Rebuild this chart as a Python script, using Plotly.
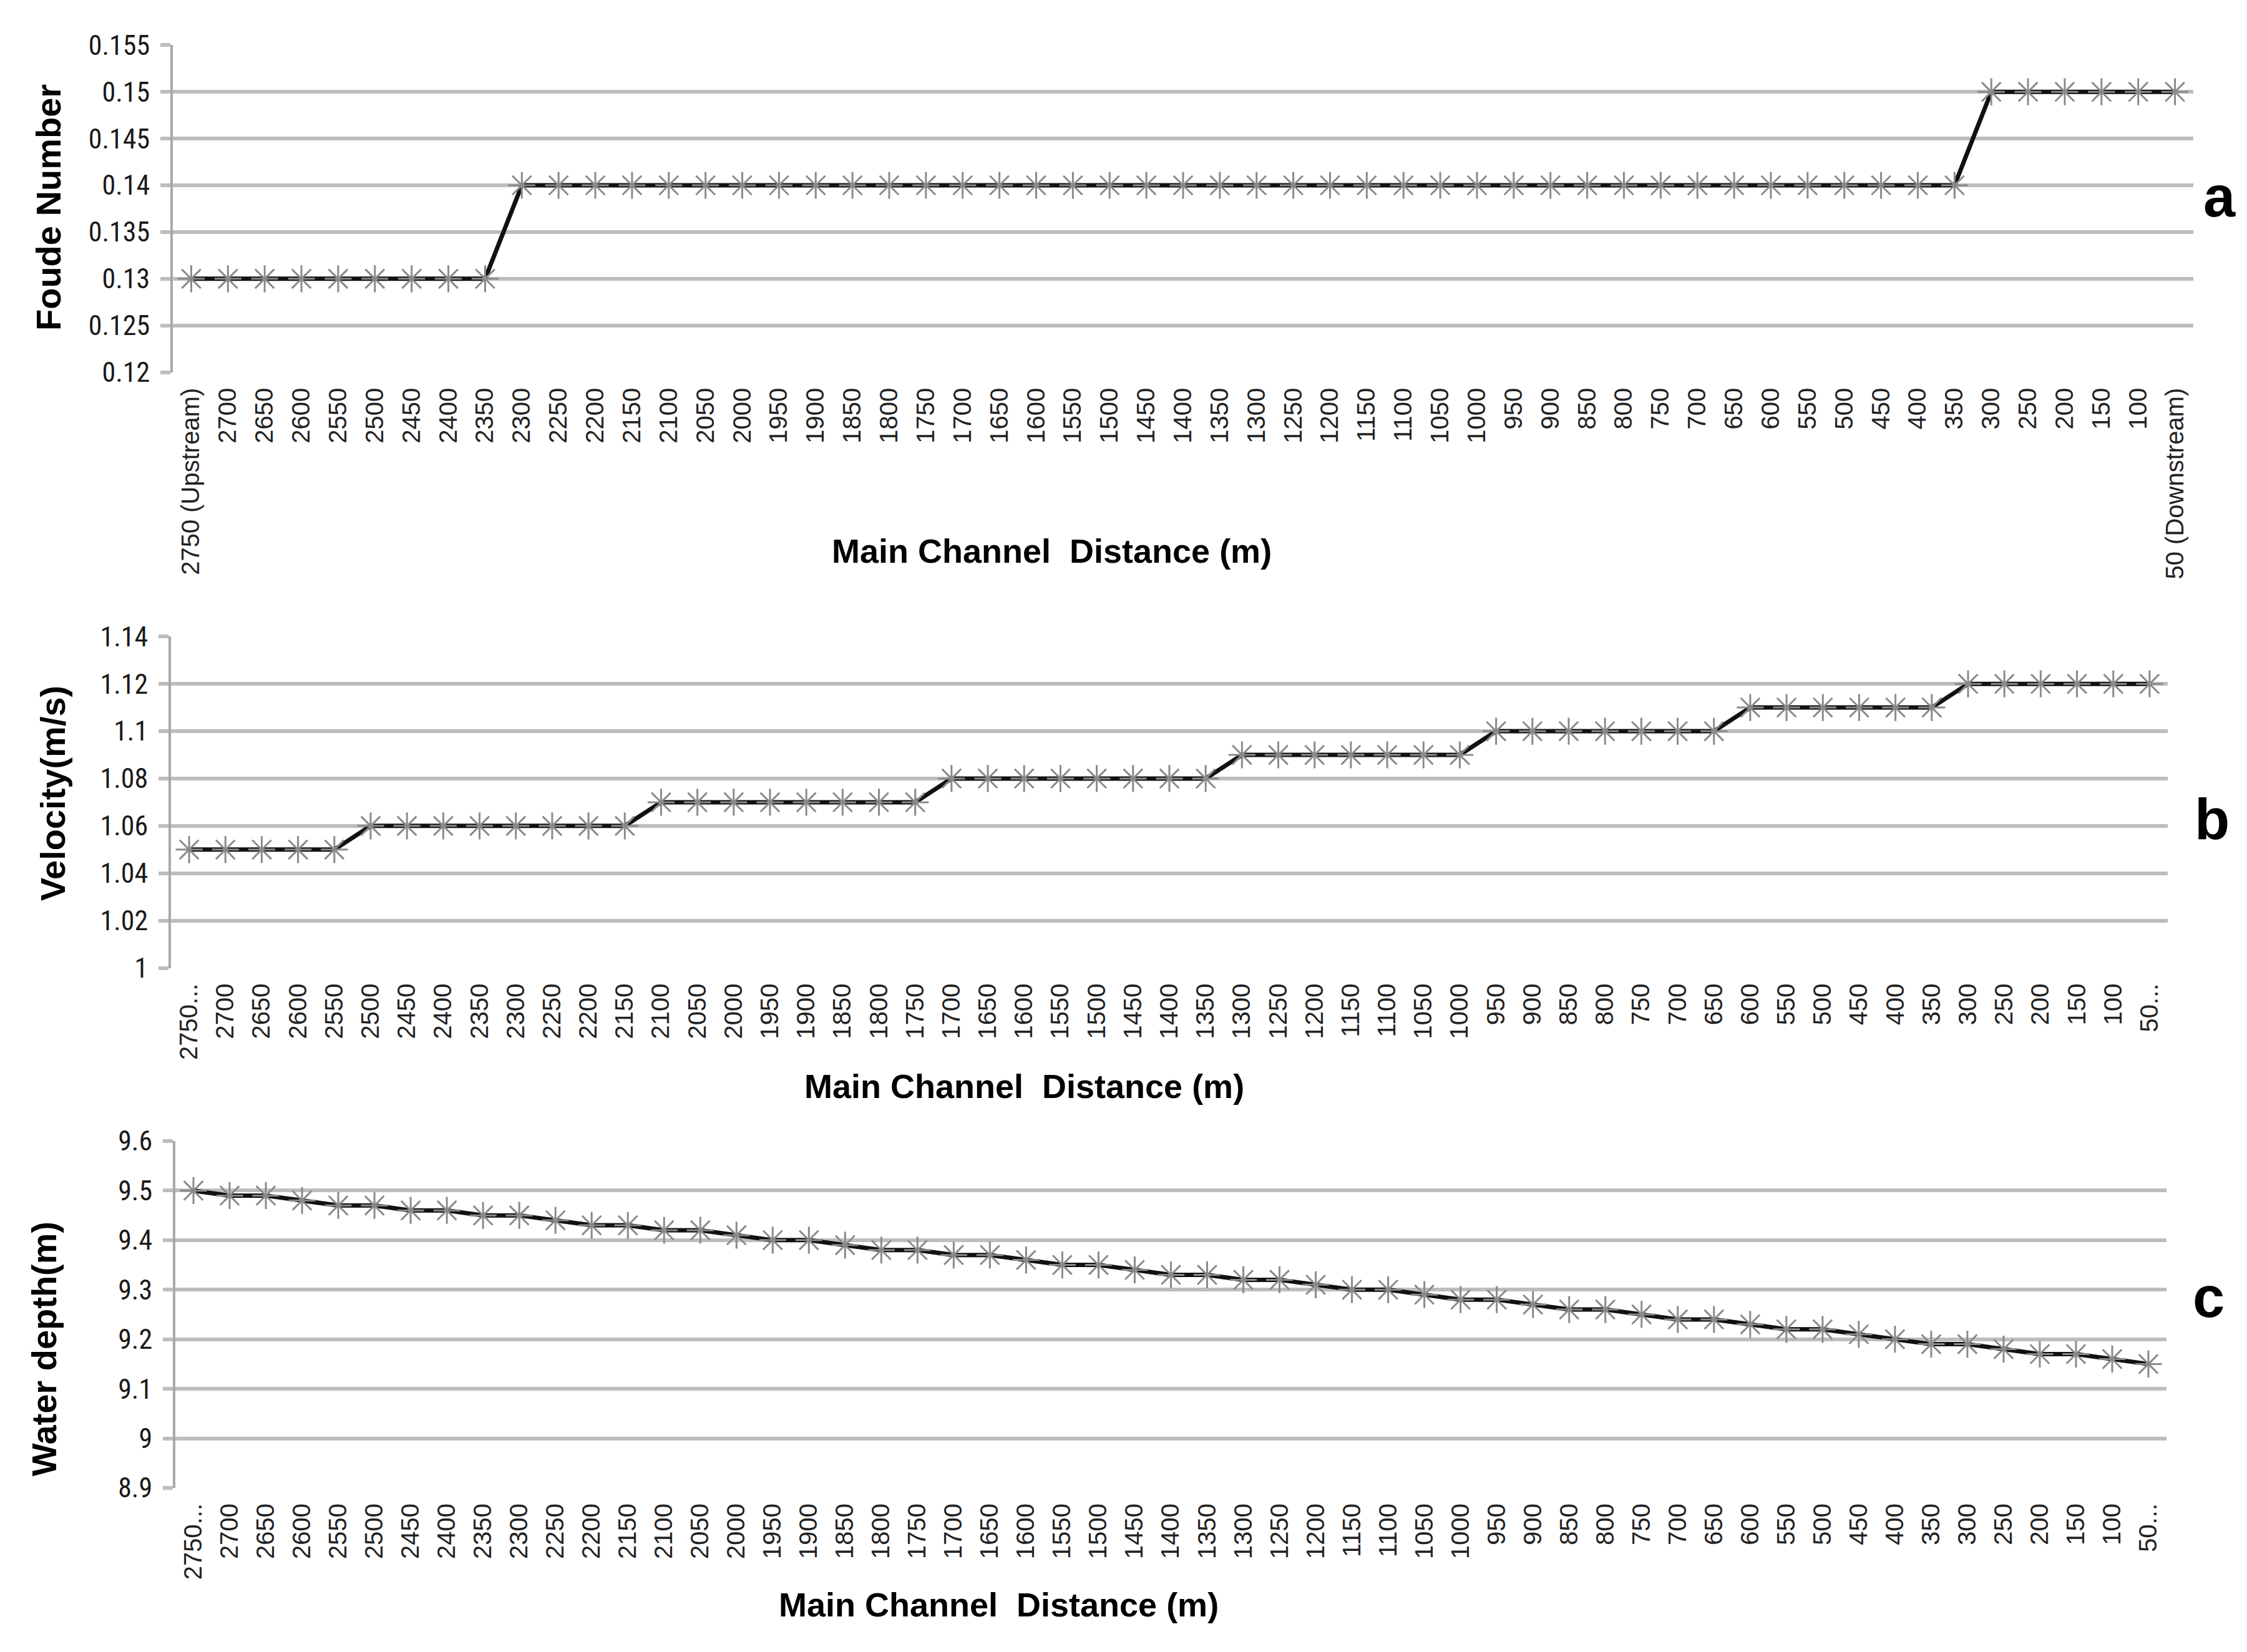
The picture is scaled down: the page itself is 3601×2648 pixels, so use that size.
import plotly.graph_objects as go

# main channel stations, upstream -> downstream (m)
distance = [2750, 2700, 2650, 2600, 2550, 2500, 2450, 2400, 2350, 2300, 2250,
            2200, 2150, 2100, 2050, 2000, 1950, 1900, 1850, 1800, 1750, 1700,
            1650, 1600, 1550, 1500, 1450, 1400, 1350, 1300, 1250, 1200, 1150,
            1100, 1050, 1000, 950, 900, 850, 800, 750, 700, 650, 600, 550,
            500, 450, 400, 350, 300, 250, 200, 150, 100, 50]

froude = [0.13] * 9 + [0.14] * 40 + [0.15] * 6

velocity = ([1.05] * 5 + [1.06] * 8 + [1.07] * 8 + [1.08] * 8 +
            [1.09] * 7 + [1.10] * 7 + [1.11] * 6 + [1.12] * 6)

depth = [9.50, 9.49, 9.49, 9.48, 9.47, 9.47, 9.46, 9.46, 9.45, 9.45, 9.44,
         9.43, 9.43, 9.42, 9.42, 9.41, 9.40, 9.40, 9.39, 9.38, 9.38, 9.37,
         9.37, 9.36, 9.35, 9.35, 9.34, 9.33, 9.33, 9.32, 9.32, 9.31, 9.30,
         9.30, 9.29, 9.28, 9.28, 9.27, 9.26, 9.26, 9.25, 9.24, 9.24, 9.23,
         9.22, 9.22, 9.21, 9.20, 9.19, 9.19, 9.18, 9.17, 9.17, 9.16, 9.15]

froude_ticks = [0.12, 0.125, 0.13, 0.135, 0.14, 0.145, 0.15, 0.155]
froude_ticktext = ["0.12", "0.125", "0.13", "0.135", "0.14", "0.145", "0.15", "0.155"]
velocity_ticks = [1.0, 1.02, 1.04, 1.06, 1.08, 1.10, 1.12, 1.14]
velocity_ticktext = ["1", "1.02", "1.04", "1.06", "1.08", "1.1", "1.12", "1.14"]
depth_ticks = [8.9, 9.0, 9.1, 9.2, 9.3, 9.4, 9.5, 9.6]
depth_ticktext = ["8.9", "9", "9.1", "9.2", "9.3", "9.4", "9.5", "9.6"]

cats = [str(d) for d in distance]
labels_a = ["2750 (Upstream)"] + cats[1:-1] + ["50 (Downstream)"]
labels_bc = ["2750..."] + cats[1:-1] + ["50..."]

FONT = "Liberation Sans, Arial"
NARROW = "Liberation Sans Narrow, Roboto Condensed, Liberation Sans, Arial"
GRID = "#bdbdbd"
W, H = 3601, 2648

fig = go.Figure()
panels = [
    ("", froude, labels_a, froude_ticks, froude_ticktext, [0.12, 0.155],
     (269, 3507), (39, 574)),
    ("2", velocity, labels_bc, velocity_ticks, velocity_ticktext, [1.0, 1.14],
     (266, 3466), (1006, 1548)),
    ("3", depth, labels_bc, depth_ticks, depth_ticktext, [8.9, 9.6],
     (273, 3464), (1831, 2398)),
]

for suffix, yvals, xlabels, yticks, yticktext, yrange, (x0, x1), (y0, y1) in panels:
    fig.add_trace(go.Scatter(
        x=cats, y=yvals, mode="lines+markers", showlegend=False,
        xaxis="x" + suffix, yaxis="y" + suffix,
        line=dict(color="#111111", width=7),
        marker=dict(symbol="asterisk-open", size=36, color="#8a8a8a",
                    line=dict(color="#8a8a8a", width=3)),
    ))
    fig.update_layout({
        "xaxis" + suffix: dict(
            domain=[x0 / W, x1 / W], anchor="y" + suffix, type="category",
            categoryorder="array", categoryarray=cats,
            tickvals=cats, ticktext=xlabels, tickangle=-90,
            tickfont=dict(family=FONT, size=40, color="#222"),
            showgrid=False, showline=False, ticks="", ticklabelstandoff=16,
            range=[-0.5, len(cats) - 0.5],
        ),
        "yaxis" + suffix: dict(
            domain=[1 - y1 / H, 1 - y0 / H], anchor="x" + suffix,
            range=yrange, tickvals=yticks, ticktext=yticktext,
            tickfont=dict(family=NARROW, size=44, color="#1a1a1a"),
            showgrid=True, gridcolor=GRID, gridwidth=6,
            showline=True, linecolor="#a8a8a8", linewidth=4,
            ticks="outside", ticklen=16, tickwidth=6, tickcolor=GRID,
            ticklabelstandoff=8, zeroline=False,
        ),
    })

title_font = dict(family=FONT, size=54, color="#000")
ytitle_font = dict(family=FONT, size=56, color="#000")
letter_font = dict(family=FONT, size=92, color="#000")
annotations = [
    dict(text="<b>Main Channel  Distance (m)</b>", x=1677, y=866, font=title_font),
    dict(text="<b>Main Channel  Distance (m)</b>", x=1633, y=1741, font=title_font),
    dict(text="<b>Main Channel  Distance (m)</b>", x=1592, y=2589, font=title_font),
    dict(text="<b>Foude Number</b>", x=69, y=305, font=ytitle_font, textangle=-90),
    dict(text="<b>Velocity(m/s)</b>", x=76, y=1263, font=ytitle_font, textangle=-90),
    dict(text="<b>Water depth(m)</b>", x=62, y=2171, font=ytitle_font, textangle=-90),
    dict(text="<b>a</b>", x=3549, y=287, font=letter_font),
    dict(text="<b>b</b>", x=3537, y=1305, font=letter_font),
    dict(text="<b>c</b>", x=3531, y=2086, font=letter_font),
]
for a in annotations:
    a.update(x=a["x"] / W, y=1 - a["y"] / H, xref="paper", yref="paper",
             showarrow=False, xanchor="center", yanchor="middle")

fig.update_layout(
    width=W, height=H, margin=dict(l=0, r=0, t=0, b=0),
    paper_bgcolor="white", plot_bgcolor="white",
    annotations=annotations,
)

fig.write_html("out.html")
